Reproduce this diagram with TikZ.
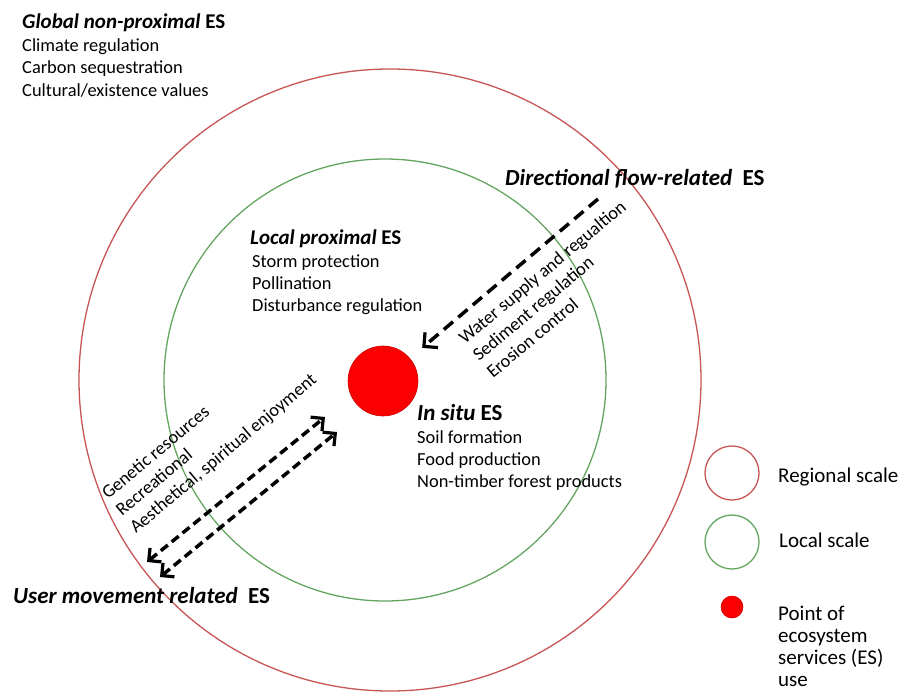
\documentclass[tikz,border=0pt]{standalone}
\usepackage{fontspec}
\setmainfont{Carlito}
\usetikzlibrary{arrows.meta}
\definecolor{regred}{RGB}{200,85,85}
\definecolor{locgreen}{RGB}{100,165,95}
\definecolor{dotred}{RGB}{250,0,0}
\tikzset{
  head/.style={inner sep=0pt, anchor=base west, font=\fontsize{23}{26}\selectfont\bfseries},
  shead/.style={head, font=\fontsize{21}{24}\selectfont\bfseries},
  body/.style={inner sep=0pt, anchor=base west, font=\fontsize{18.4}{22}\selectfont},
  legtext/.style={inner sep=0pt, anchor=base west, font=\fontsize{21}{24}\selectfont},
  rbody/.style={body, rotate=40},
  regcircle/.style={draw=regred, line width=1.3pt},
  loccircle/.style={draw=locgreen, line width=1.3pt},
  esdot/.style={circle, fill=dotred, draw=red!80!black, line width=0.6pt, inner sep=0pt},
  flowarrow/.style={line width=3.5pt, dash pattern=on 12pt off 7pt, -{Straight Barb[length=10pt,width=20pt,line width=3.2pt]}},
  userarrow/.style={line width=3.5pt, dash pattern=on 9pt off 5pt, {Straight Barb[length=9pt,width=18pt,line width=3.2pt]}-{Straight Barb[length=9pt,width=18pt,line width=3.2pt]}},
}
\begin{document}
\begin{tikzpicture}[x=1pt,y=-1pt]
\useasboundingbox (0,0) rectangle (899,693);
% scale circles
\draw[regcircle] (390,380) circle[radius=311];
\draw[loccircle] (385,380) circle[radius=221];
\node[esdot, minimum size=70pt] (dot) at (383,381) {};

% Global non-proximal
\node[shead] (glob) at (22,29) {\textit{Global non-proximal} ES};
\node[body] (glob1) at (22,52) {Climate regulation};
\node[body] (glob2) at (22,74) {Carbon sequestration};
\node[body] (glob3) at (22,96) {Cultural/existence values};

% Local proximal
\node[shead] (loc) at (250,244) {\textit{Local proximal} ES};
\node[body] (loc1) at (252,267) {Storm protection};
\node[body] (loc2) at (252,289) {Pollination};
\node[body] (loc3) at (252,311) {Disturbance regulation};

% In situ
\node[head] (insitu) at (417,420) {\textit{In situ} ES};
\node[body] (ins1) at (417,443) {Soil formation};
\node[body] (ins2) at (417,465) {Food production};
\node[body] (ins3) at (417,487) {Non-timber forest products};

% Directional flow
\node[head] (dir) at (505,185) {\textit{Directional flow-related}\hspace{0.45em}ES};
\coordinate (dirstart) at (598,199);
\draw[flowarrow, shorten >=16pt] (dirstart) -- (dot);
\node[rbody] (dir1) at (465,345) {Water supply and regualtion};
\node[rbody] (dir2) at (479,362) {Sediment regulation};
\node[rbody] (dir3) at (493,379) {Erosion control};

% User movement
\node[head] (user) at (13,603) {\textit{User movement related}\hspace{0.45em}ES};
\coordinate (ua1) at (147,562);
\coordinate (ub1) at (325,417);
\coordinate (ua2) at (160,577);
\coordinate (ub2) at (337,432);
\draw[userarrow] (ua1) -- (ub1);
\draw[userarrow] (ua2) -- (ub2);
\node[rbody] (um1) at (108,500) {Genetic resources};
\node[rbody] (um2) at (122,517) {Recreational};
\node[rbody] (um3) at (136,534) {Aesthetical, spiritual enjoyment};

% Legend
\draw[regcircle] (732,473) circle[radius=27];
\draw[loccircle] (732,542) circle[radius=27];
\node[esdot, minimum size=22pt] (legdot) at (732,607) {};
\node[legtext] (lreg) at (778,482) {Regional scale};
\node[legtext] (lloc) at (779,547) {Local scale};
\node[legtext] (lp1) at (778,620) {Point of};
\node[legtext] (lp2) at (778,642) {ecosystem};
\node[legtext] (lp3) at (778,664) {services (ES)};
\node[legtext] (lp4) at (778,686) {use};
\end{tikzpicture}
\end{document}
